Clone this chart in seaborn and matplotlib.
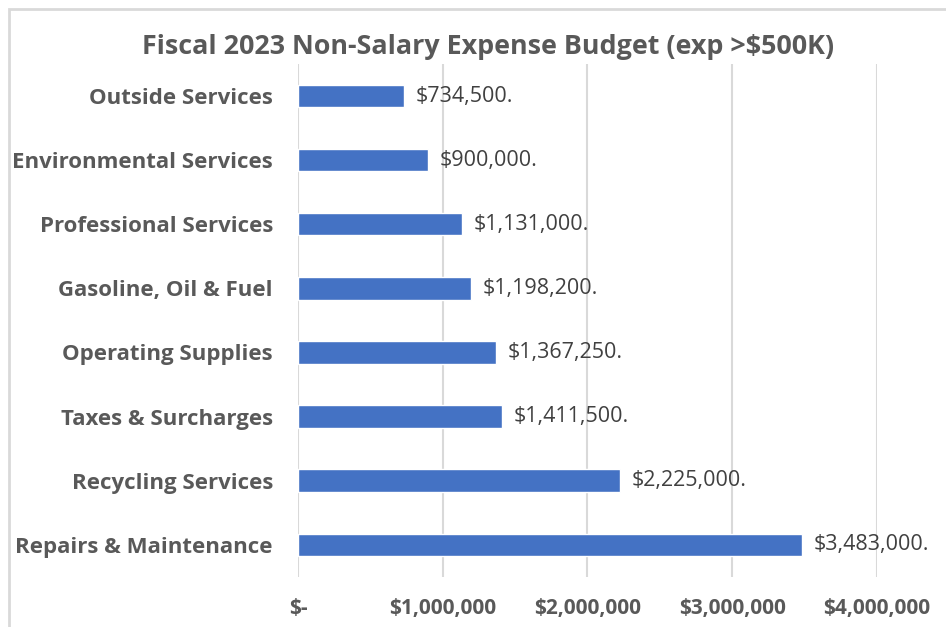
import matplotlib
matplotlib.use('Agg')
import matplotlib.pyplot as plt
from matplotlib.patches import Rectangle
from matplotlib.ticker import FuncFormatter
import seaborn as sns
import pandas as pd

# datos
categorias = ['Outside Services', 'Environmental Services', 'Professional Services',
              'Gasoline, Oil & Fuel', 'Operating Supplies', 'Taxes & Surcharges',
              'Recycling Services', 'Repairs & Maintenance']
montos = [734500, 900000, 1131000, 1198200, 1367250, 1411500, 2225000, 3483000]
ticks_x = [0, 1000000, 2000000, 3000000, 4000000]

df = pd.DataFrame({'categoria': categorias, 'monto': montos})

sns.set_style('white')
plt.rcParams['font.family'] = ['Open Sans', 'DejaVu Sans']

fig = plt.figure(figsize=(9.46, 6.27), dpi=100)
ax = fig.add_axes([0.315, 0.080, 0.612, 0.818])

sns.barplot(data=df, x='monto', y='categoria', color='#4472C4',
            width=0.35, orient='h', ax=ax, saturation=1)

ax.set_xlim(0, 4000000)
ax.set_xticks(ticks_x)
ax.xaxis.set_major_formatter(FuncFormatter(lambda v, p: '$-' if v == 0 else f'${v:,.0f}'))
ax.grid(axis='x', color='#d9d9d9', linewidth=1.5)
ax.set_axisbelow(True)
for s in ax.spines.values():
    s.set_visible(False)
ax.set_xlabel('')
ax.set_ylabel('')
ax.tick_params(axis='x', length=0, pad=15, labelsize=15, labelcolor='#595959')
ax.tick_params(axis='y', length=0, pad=18, labelsize=16, labelcolor='#595959')
for lbl in ax.get_xticklabels() + ax.get_yticklabels():
    lbl.set_fontweight('bold')

# etiquetas de datos
for i, v in enumerate(montos):
    ax.text(v + 80000, i, f'${v:,.0f}.', va='center', ha='left',
            fontsize=15.5, color='#404040')

fig.text(0.516, 0.925, 'Fiscal 2023 Non-Salary Expense Budget (exp >$500K)',
         ha='center', va='center', fontsize=19.4, color='#595959', fontweight='bold')

# borde del grafico
fig.patches.append(Rectangle((0.010, -0.1), 1.1, 1.086, transform=fig.transFigure,
                             fill=False, edgecolor='#d9d9d9', linewidth=2))

fig.savefig('out.png', dpi=100)
